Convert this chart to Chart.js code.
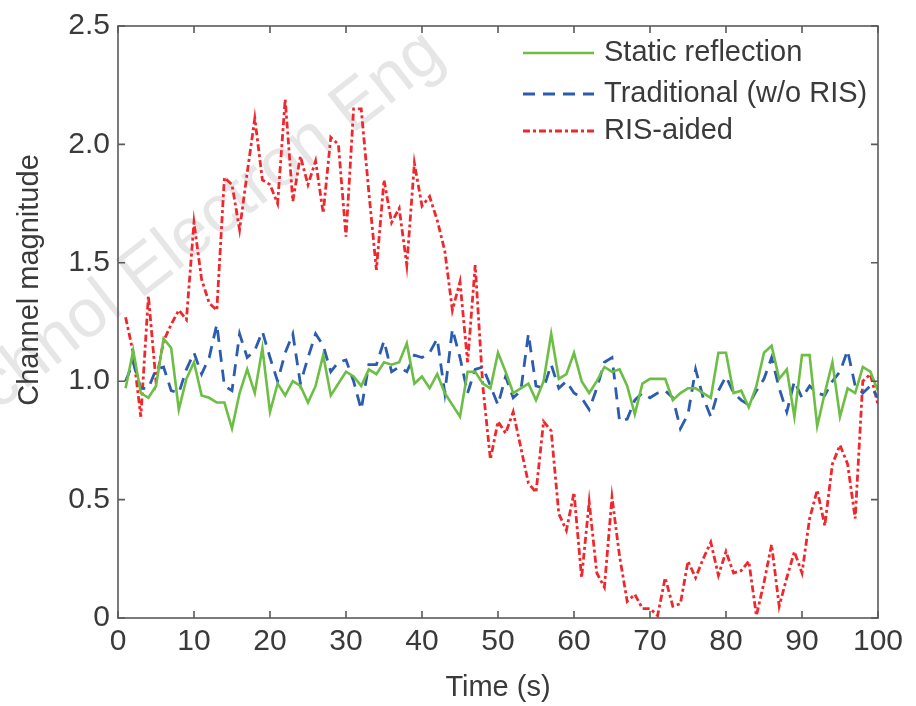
<!DOCTYPE html>
<html><head><meta charset="utf-8">
<script src="https://cdn.jsdelivr.net/npm/chart.js@4.4.1/dist/chart.umd.min.js"></script>
<style>html,body{margin:0;padding:0;background:#fff;}#wrap{width:916px;height:706px;}</style>
</head><body><div id="wrap"><canvas id="c" width="916" height="706"></canvas></div>
<script>
const timeSeconds = [1,2,3,4,5,6,7,8,9,10,11,12,13,14,15,16,17,18,19,20,21,22,23,24,25,26,27,28,29,30,31,32,33,34,35,36,37,38,39,40,41,42,43,44,45,46,47,48,49,50,51,52,53,54,55,56,57,58,59,60,61,62,63,64,65,66,67,68,69,70,71,72,73,74,75,76,77,78,79,80,81,82,83,84,85,86,87,88,89,90,91,92,93,94,95,96,97,98,99,100];

const staticReflection = [0.97,1.13,0.95,0.93,0.98,1.18,1.14,0.88,1.01,1.08,0.94,0.93,0.91,0.91,0.80,0.95,1.05,0.95,1.14,0.87,0.99,0.94,1.00,0.98,0.91,0.98,1.11,0.94,0.99,1.04,1.02,0.98,1.05,1.03,1.08,1.07,1.08,1.16,0.99,1.02,0.97,1.03,0.95,0.90,0.85,1.04,1.04,0.99,0.97,1.12,1.04,0.95,0.97,0.99,0.92,1.00,1.20,1.01,1.03,1.12,1.00,0.95,1.00,1.06,1.04,1.05,0.98,0.86,0.99,1.01,1.01,1.01,0.92,0.95,0.97,0.97,0.95,0.93,1.12,1.12,0.95,0.96,0.89,0.98,1.12,1.15,1.01,1.05,0.85,1.11,1.11,0.81,0.95,1.08,0.85,0.97,0.95,1.06,1.04,0.96];

const traditional = [1.00,1.08,0.97,0.97,1.05,1.06,0.96,0.95,1.05,1.12,1.03,1.10,1.24,0.98,0.96,1.20,1.10,1.13,1.21,1.10,1.00,1.12,1.20,0.99,1.10,1.20,1.15,1.04,1.08,1.09,1.00,0.88,1.07,1.07,1.17,1.04,1.06,1.04,1.11,1.10,1.12,1.18,0.95,1.22,1.10,0.95,1.05,1.06,0.98,0.90,1.02,0.93,0.96,1.20,0.98,0.97,1.07,0.97,1.00,0.95,0.93,0.88,0.97,1.08,1.10,0.83,0.84,0.92,0.95,0.93,0.95,0.96,0.93,0.80,0.86,1.05,0.93,0.85,0.96,1.02,0.95,0.92,0.90,0.96,1.01,1.10,0.97,0.87,1.00,0.93,0.98,0.95,0.94,1.00,1.04,1.13,0.98,0.95,0.98,0.93];

const risAided = [1.27,1.12,0.85,1.36,1.00,1.17,1.24,1.30,1.26,1.67,1.43,1.33,1.30,1.86,1.83,1.64,1.88,2.11,1.85,1.83,1.75,2.19,1.76,1.95,1.83,1.93,1.71,2.03,2.00,1.61,2.15,2.15,1.80,1.47,1.85,1.67,1.73,1.49,1.92,1.74,1.78,1.68,1.55,1.30,1.42,1.08,1.49,0.98,0.67,0.83,0.78,0.87,0.72,0.57,0.53,0.83,0.79,0.44,0.37,0.53,0.17,0.49,0.19,0.13,0.51,0.26,0.07,0.10,0.04,0.04,0.01,0.17,0.05,0.06,0.24,0.17,0.25,0.32,0.18,0.28,0.19,0.20,0.24,0.01,0.15,0.31,0.05,0.17,0.28,0.19,0.42,0.54,0.39,0.65,0.73,0.65,0.42,1.00,1.03,0.90];

const xTickValues = [0,10,20,30,40,50,60,70,80,90,100];
const yTickValues = [0,0.5,1.0,1.5,2.0,2.5];
const yTickLabels = ["0","0.5","1.0","1.5","2.0","2.5"];
const seriesLabels = ["Static reflection","Traditional (w/o RIS)","RIS-aided"];
const xTitle = "Time (s)";
const yTitle = "Channel magnitude";
const watermarkText = "Front Inform Technol Electron Eng";

const FONT = '"Liberation Sans", Arial, Helvetica, sans-serif';
const TEXT = '#3a3a3a';

function pts(ys){ return timeSeconds.map((t,i)=>({x:t,y:ys[i]})); }

const decor = {
  id:'decor',
  beforeDatasetsDraw(chart){
    const ctx = chart.ctx;
    ctx.save();
    ctx.translate(447, 60);
    ctx.rotate(-38*Math.PI/180);
    ctx.font = '68px ' + FONT;
    ctx.fillStyle = 'rgba(205,205,205,0.5)';
    ctx.textAlign = 'right';
    ctx.textBaseline = 'alphabetic';
    ctx.fillText(watermarkText, 0, 0);
    ctx.restore();
  },
  afterDatasetsDraw(chart){
    const ctx = chart.ctx, a = chart.chartArea;
    const xs = chart.scales.x, ys = chart.scales.y;
    ctx.save();
    ctx.strokeStyle = '#5a5a5a';
    ctx.lineWidth = 1.6;
    ctx.setLineDash([]);
    ctx.strokeRect(a.left, a.top, a.right - a.left, a.bottom - a.top);
    const tl = 7;
    ctx.beginPath();
    xTickValues.forEach(v=>{
      const px = xs.getPixelForValue(v);
      ctx.moveTo(px, a.bottom); ctx.lineTo(px, a.bottom - tl);
      ctx.moveTo(px, a.top); ctx.lineTo(px, a.top + tl);
    });
    yTickValues.forEach(v=>{
      const py = ys.getPixelForValue(v);
      ctx.moveTo(a.left, py); ctx.lineTo(a.left + tl, py);
      ctx.moveTo(a.right, py); ctx.lineTo(a.right - tl, py);
    });
    ctx.stroke();
    // y title
    ctx.save();
    ctx.translate(30, 280);
    ctx.rotate(-Math.PI/2);
    ctx.font = '29px ' + FONT;
    ctx.fillStyle = TEXT;
    ctx.textAlign = 'center';
    ctx.textBaseline = 'middle';
    ctx.fillText(yTitle, 0, 0);
    ctx.restore();
    // legend
    const rows = [53, 94, 131];
    chart.data.datasets.forEach((ds,i)=>{
      const y = rows[i];
      ctx.strokeStyle = ds.borderColor;
      ctx.lineWidth = ds.borderWidth;
      ctx.setLineDash(ds.borderDash || []);
      ctx.beginPath(); ctx.moveTo(523, y); ctx.lineTo(594, y); ctx.stroke();
      ctx.setLineDash([]);
      ctx.font = '29px ' + FONT;
      ctx.fillStyle = TEXT;
      ctx.textAlign = 'left';
      ctx.textBaseline = 'middle';
      ctx.fillText(ds.label, 604, y);
    });
    ctx.restore();
  }
};

new Chart(document.getElementById('c'), {
  type:'line',
  data:{
    datasets:[
      {label:seriesLabels[0], data:pts(staticReflection), borderColor:'#6cbe45', borderWidth:2.6, borderDash:[], pointRadius:0, tension:0, fill:false},
      {label:seriesLabels[1], data:pts(traditional), borderColor:'#2c5caf', borderWidth:2.8, borderDash:[12,8], pointRadius:0, tension:0, fill:false},
      {label:seriesLabels[2], data:pts(risAided), borderColor:'#f0282d', borderWidth:2.8, borderDash:[7,3,3,3], pointRadius:0, tension:0, fill:false}
    ]
  },
  options:{
    responsive:false, animation:false, devicePixelRatio:1,
    layout:{padding:{top:17,right:38,left:0,bottom:0}},
    plugins:{legend:{display:false}, tooltip:{enabled:false}},
    scales:{
      x:{type:'linear', min:0, max:100,
        afterBuildTicks:s=>{ s.ticks = xTickValues.map(v=>({value:v})); },
        ticks:{font:{family:FONT,size:30}, color:TEXT, padding:6, maxRotation:0, autoSkip:false, callback:v=>String(v)},
        grid:{display:false, drawTicks:false}, border:{display:false},
        title:{display:true, text:xTitle, font:{family:FONT,size:29}, color:TEXT, padding:{top:0,bottom:1}},
        afterFit:s=>{ s.height = 88; }
      },
      y:{type:'linear', min:0, max:2.5,
        afterBuildTicks:s=>{ s.ticks = yTickValues.map(v=>({value:v})); },
        ticks:{font:{family:FONT,size:30}, color:TEXT, padding:8, autoSkip:false, callback:(v)=>{ const i = yTickValues.indexOf(v); return i>=0 ? yTickLabels[i] : ''; }},
        grid:{display:false, drawTicks:false}, border:{display:false},
        afterFit:s=>{ s.width = 118; }
      }
    }
  },
  plugins:[decor]
});
</script>
</body></html>
